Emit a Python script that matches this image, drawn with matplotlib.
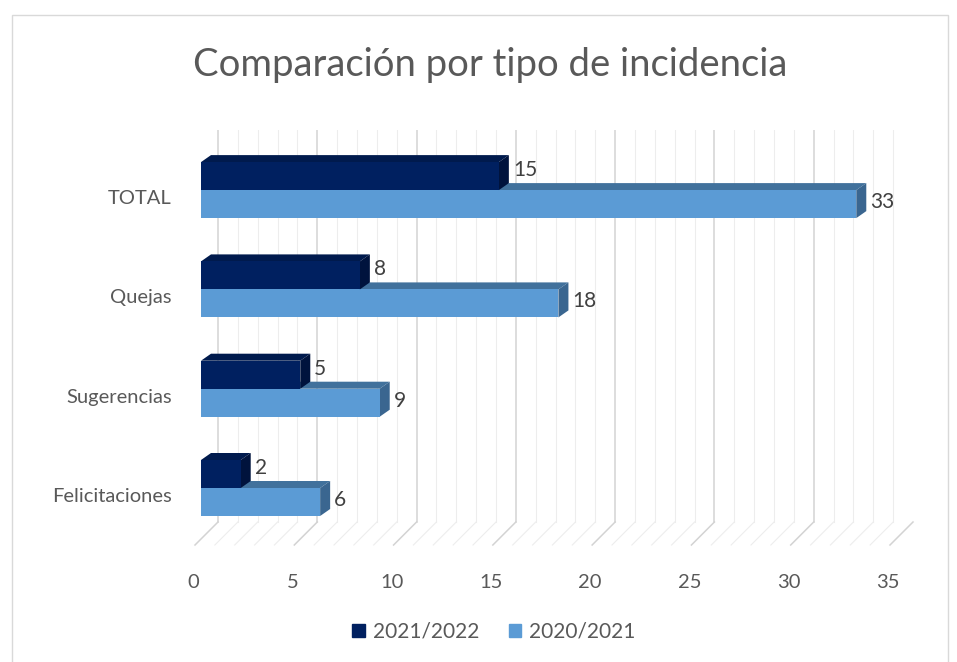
import matplotlib.pyplot as plt
from matplotlib.patches import Polygon, Rectangle, Patch
from matplotlib.transforms import ScaledTranslation

plt.rcParams['font.family'] = ['Lato', 'DejaVu Sans']

categories = ['Felicitaciones', 'Sugerencias', 'Quejas', 'TOTAL']
s2122 = [2, 5, 8, 15]
s2021 = [6, 9, 18, 33]
xticks = [0, 5, 10, 15, 20, 25, 30, 35]

dark = '#002060'
dark_top = '#001a4d'
dark_side = '#00133d'
light = '#5b9bd5'
light_top = '#41719c'
light_side = '#3a6690'
txt = '#595959'

W, H = 957, 662
fig = plt.figure(figsize=(W / 100, H / 100), dpi=100)

# axes box in pixels: front plane of bars
px_l, px_r, px_t, px_b = 201, 896, 130, 545
ax = fig.add_axes([px_l / W, 1 - px_b / H, (px_r - px_l) / W, (px_b - px_t) / H])
xmax = 35
y_center_px = 488
cat_step = 99.3
ylo = (y_center_px - px_b) / cat_step
yhi = (y_center_px - px_t) / cat_step
ax.set_xlim(0, xmax)
ax.set_ylim(ylo, yhi)
for s in ax.spines.values():
    s.set_visible(False)

xs = (px_r - px_l) / xmax      # px per unit in x
ys = cat_step                  # px per unit in y
bh = 28 / ys                   # bar height
ddx, ddy = 10 / xs, 7 / ys     # bar depth offset
wall_dx = 17 / xs
front_dx = -6 / xs
floor_back = (y_center_px - 522) / ys

# back wall + floor grid
for v in range(0, xmax + 1):
    major = v % 5 == 0
    c = '#d3d3d3' if major else '#ededed'
    lw = 1.1 if major else 0.8
    ax.plot([v + wall_dx, v + wall_dx], [floor_back, yhi], color=c, lw=lw, zorder=0)
    ax.plot([v + wall_dx, v + front_dx], [floor_back, ylo], color=c, lw=lw, zorder=0,
            clip_on=False)

ypos = list(range(len(categories)))

def faces(x1, y0, top, side, z):
    # top face and right side face of a 3D bar
    ax.add_patch(Polygon([(0, y0 + bh), (x1, y0 + bh), (x1 + ddx, y0 + bh + ddy),
                          (ddx, y0 + bh + ddy)], closed=True, fc=top, ec='none', zorder=z))
    ax.add_patch(Polygon([(x1, y0), (x1, y0 + bh), (x1 + ddx, y0 + bh + ddy),
                          (x1 + ddx, y0 + ddy)], closed=True, fc=side, ec='none', zorder=z))

for i, y in enumerate(ypos):
    faces(s2021[i], y - bh, light_top, light_side, 2)
ax.barh([y - bh / 2 for y in ypos], s2021, height=bh, color=light, zorder=3,
        label='2020/2021')
for i, y in enumerate(ypos):
    faces(s2122[i], y, dark_top, dark_side, 4)
ax.barh([y + bh / 2 for y in ypos], s2122, height=bh, color=dark, zorder=5,
        label='2021/2022')

for i, y in enumerate(ypos):
    ax.text(s2122[i] + ddx + 4 / xs, y + bh / 2 + 0.06, str(s2122[i]), ha='left',
            va='center', fontsize=15, color='#404040', zorder=6)
    ax.text(s2021[i] + ddx + 4 / xs, y - bh / 2 + 0.02, str(s2021[i]), ha='left',
            va='center', fontsize=15, color='#404040', zorder=6)

ax.set_yticks([y - 0.07 for y in ypos])
ax.set_yticklabels(categories, fontsize=14.5, color=txt)
ax.set_xticks(xticks)
ax.set_xticklabels([str(t) for t in xticks], fontsize=14.5, color=txt)
ax.tick_params(axis='y', length=0, pad=21)
ax.tick_params(axis='x', length=0, pad=21)
for lab in ax.get_xticklabels():
    lab.set_transform(lab.get_transform() + ScaledTranslation(-8 / 100, 0, fig.dpi_scale_trans))

fig.text(490 / W, 1 - 65 / H, 'Comparación por tipo de incidencia', ha='center',
         va='center', fontsize=27.5, color=txt)

handles = [Patch(color=dark, label='2021/2022'), Patch(color=light, label='2020/2021')]
fig.legend(handles=handles, loc='center', bbox_to_anchor=(494 / W, 1 - 632 / H),
           ncol=2, frameon=False, fontsize=15, labelcolor=txt, handlelength=0.6,
           handleheight=0.6, handletextpad=0.4, columnspacing=1.4)

fig.patches.append(Rectangle((12 / W, -0.01), (948 - 12) / W, 1 - 15 / H + 0.01,
                             transform=fig.transFigure, fill=False, ec='#d9d9d9', lw=1))

fig.savefig('out.png', dpi=100)
